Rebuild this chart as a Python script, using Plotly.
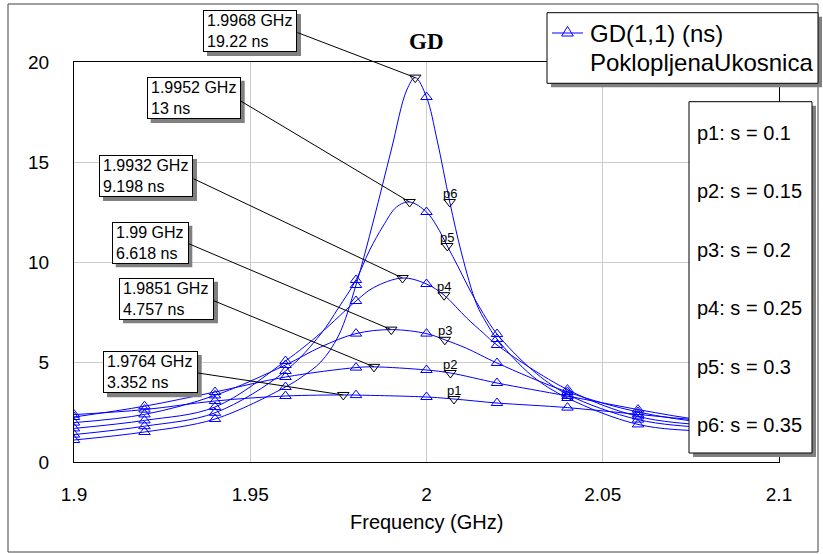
import plotly.graph_objects as go

# ---------------- data ----------------
freq_grid = [1.90, 1.92, 1.94, 1.96, 1.98, 2.00, 2.02, 2.04, 2.06, 2.08, 2.10]
gd_p1 = [2.37, 2.62, 3.05, 3.30, 3.345, 3.25, 2.95, 2.72, 2.38, 2.05, 1.80]
gd_p2 = [2.25, 2.79, 3.50, 4.25, 4.72, 4.60, 3.95, 3.30, 2.62, 2.05, 1.72]
gd_p3 = [1.97, 2.38, 3.33, 4.85, 6.42, 6.42, 4.95, 3.50, 2.50, 1.95, 1.66]
gd_p4 = [1.68, 2.08, 2.75, 5.05, 8.05, 8.90, 5.85, 3.62, 2.28, 1.82, 1.58]
gd_p5 = [1.37, 1.79, 2.46, 4.55, 9.10, 12.50, 6.40, 3.38, 2.12, 1.70, 1.50]
gd_p6 = [1.10, 1.50, 2.15, 3.75, 8.85, 18.25, 6.15, 3.20, 1.88, 1.52, 1.36]

# extra points read along the curves between the grid frequencies
extra_f_p1, extra_gd_p1 = [], []
extra_f_p2, extra_gd_p2 = [], []
extra_f_p3, extra_gd_p3 = [1.97, 2.0114], [5.75, 5.68]
extra_f_p4, extra_gd_p4 = [1.97, 1.985, 2.0114, 2.0161], [6.45, 8.72, 7.20, 6.45]
extra_f_p5 = [1.97, 1.975, 1.9839, 1.9877, 1.9915, 2.0029, 2.009, 2.0123, 2.0161, 2.03]
extra_gd_p5 = [6.40, 7.70, 10.60, 11.80, 12.75, 11.80, 9.75, 8.60, 7.42, 4.60]
extra_f_p6 = [1.965, 1.97, 1.975, 1.985, 1.99, 1.9944, 2.003, 2.01, 2.0142, 2.017, 2.03]
extra_gd_p6 = [4.30, 5.00, 6.30, 12.10, 15.60, 18.60, 16.10, 10.40, 7.90, 6.95, 4.30]

# peak markers (annotated)
peak_freq = [1.9764, 1.9851, 1.99, 1.9932, 1.9952, 1.9968]
peak_gd = [3.352, 4.757, 6.618, 9.198, 13, 19.22]

# curve label markers p1..p6
label_names = ["p1", "p2", "p3", "p4", "p5", "p6"]
label_freq = [2.0078, 2.0068, 2.0052, 2.0050, 2.0059, 2.0066]
label_gd = [3.15, 4.45, 6.11, 8.34, 10.80, 13.00]

s_values = [0.1, 0.15, 0.2, 0.25, 0.3, 0.35]

x_ticks = [1.9, 1.95, 2.0, 2.05, 2.1]
x_ticklabels = ["1.9", "1.95", "2", "2.05", "2.1"]
y_ticks = [0, 5, 10, 15, 20]

legend_lines = ["GD(1,1) (ns)", "PoklopljenaUkosnica"]
title_text = "GD"
x_title = "Frequency (GHz)"

# ---------------- layout helpers (pixels -> paper) ----------------
W, H = 823, 554
L, R, T, B = 74, 779, 62, 462
X0, X1 = 1.9, 2.1


def PX(x):
    return (x - L) / (R - L)


def PY(y):
    return (B - y) / (B - T)


def data_px(f):
    return L + (f - X0) / (X1 - X0) * (R - L)


def data_py(v):
    return B - v / 20.0 * (B - T)


FONT = "Liberation Sans, Arial, sans-serif"
BLUE = "#0000ff"
SHADOW = "#808080"

grids = [gd_p1, gd_p2, gd_p3, gd_p4, gd_p5, gd_p6]
extras_f = [extra_f_p1, extra_f_p2, extra_f_p3, extra_f_p4, extra_f_p5, extra_f_p6]
extras_gd = [extra_gd_p1, extra_gd_p2, extra_gd_p3, extra_gd_p4, extra_gd_p5, extra_gd_p6]

fig = go.Figure()

for i in range(6):
    pts = list(zip(freq_grid, grids[i]))
    pts += list(zip(extras_f[i], extras_gd[i]))
    pts.append((peak_freq[i], peak_gd[i]))
    pts.append((label_freq[i], label_gd[i]))
    pts.sort()
    fig.add_trace(go.Scatter(
        x=[p[0] for p in pts], y=[p[1] for p in pts], mode="lines",
        line=dict(color=BLUE, width=1, shape="spline", smoothing=1.0),
        showlegend=False, hoverinfo="skip"))

for i in range(6):
    fig.add_trace(go.Scatter(
        x=freq_grid, y=grids[i], mode="markers",
        marker=dict(symbol="triangle-up-open", size=10, color=BLUE,
                    line=dict(width=1, color=BLUE)),
        showlegend=False, hoverinfo="skip"))

fig.add_trace(go.Scatter(
    x=peak_freq, y=peak_gd, mode="markers",
    marker=dict(symbol="triangle-down-open", size=10, color="black",
                line=dict(width=1, color="black")),
    showlegend=False, hoverinfo="skip"))
fig.add_trace(go.Scatter(
    x=label_freq, y=label_gd, mode="markers",
    marker=dict(symbol="triangle-down-open", size=10, color="black",
                line=dict(width=1, color="black")),
    showlegend=False, hoverinfo="skip"))

shapes = []
annotations = []

# outer frame
shapes.append(dict(type="rect", xref="paper", yref="paper",
                   x0=PX(8), x1=PX(818), y0=PY(552), y1=PY(4),
                   line=dict(color="#404040", width=1), layer="above"))

# legend box (drawn by hand) + shadow
shapes.append(dict(type="rect", xref="paper", yref="paper",
                   x0=PX(551), x1=PX(822), y0=PY(87.3), y1=PY(16.7),
                   line=dict(width=0), fillcolor=SHADOW, layer="above"))
shapes.append(dict(type="rect", xref="paper", yref="paper",
                   x0=PX(547), x1=PX(818), y0=PY(83.3), y1=PY(12.7),
                   line=dict(width=1, color="black"), fillcolor="white", layer="above"))
shapes.append(dict(type="line", xref="paper", yref="paper",
                   x0=PX(552), x1=PX(583), y0=PY(33), y1=PY(33),
                   line=dict(width=1, color=BLUE), layer="above"))
cx, cy = 567.5, 33.5
tri = [(cx - 5.77, cy + 2.5), (cx + 5.77, cy + 2.5), (cx, cy - 7.07)]
path = "M " + " L ".join(f"{PX(a):.5f},{PY(b):.5f}" for a, b in tri) + " Z"
shapes.append(dict(type="path", xref="paper", yref="paper", path=path,
                   line=dict(width=1, color=BLUE), fillcolor="rgba(0,0,0,0)",
                   layer="above"))
for k, yy in enumerate([33, 62]):
    annotations.append(dict(
        xref="paper", yref="paper", x=PX(588), y=PY(yy),
        xanchor="left", yanchor="middle", showarrow=False,
        text=legend_lines[k], font=dict(family=FONT, size=24, color="black")))

# parameter box + shadow
shapes.append(dict(type="rect", xref="paper", yref="paper",
                   x0=PX(693), x1=PX(816), y0=PY(457), y1=PY(105.7),
                   line=dict(width=0), fillcolor=SHADOW, layer="above"))
shapes.append(dict(type="rect", xref="paper", yref="paper",
                   x0=PX(689), x1=PX(812), y0=PY(453), y1=PY(101.7),
                   line=dict(width=1, color="black"), fillcolor="white", layer="above"))

param_y = [132.7, 190.5, 249.5, 308, 366.7, 425]
for i in range(6):
    annotations.append(dict(
        xref="paper", yref="paper", x=PX(695), y=PY(param_y[i]),
        xanchor="left", yanchor="middle", showarrow=False,
        text=f"{label_names[i]}: s = {s_values[i]:g}",
        font=dict(family=FONT, size=20, color="black")))

# marker boxes (left, top, width, height) and leader tails
boxes = [(203, 10, 94, 42), (146.7, 76.7, 94, 42.3), (99, 155, 94, 42),
         (111.7, 221.7, 76.6, 41.6), (119, 277.7, 95, 41.6), (103, 351, 94.7, 42.3)]
tails = [(296, 32), (239, 100), (192, 178), (187, 243), (212, 300), (196, 372.7)]

for i in range(6):
    f, v = peak_freq[5 - i], peak_gd[5 - i]
    tx, ty = tails[i]
    annotations.append(dict(
        x=f, y=v, xref="x", yref="y", text="", showarrow=True,
        arrowhead=0, arrowwidth=1, arrowcolor="black", standoff=0,
        ax=tx - data_px(f), ay=ty - data_py(v)))

for i in range(6):
    f, v = peak_freq[5 - i], peak_gd[5 - i]
    lft, top, w, h = boxes[i]
    shapes.append(dict(type="rect", xref="paper", yref="paper",
                       x0=PX(lft + 4), x1=PX(lft + w + 4),
                       y0=PY(top + h + 4), y1=PY(top + 4),
                       line=dict(width=0), fillcolor=SHADOW, layer="above"))
    annotations.append(dict(
        xref="paper", yref="paper", x=PX(lft), y=PY(top),
        xanchor="left", yanchor="top", showarrow=False,
        text=f"{f:g} GHz<br>{v:g} ns", align="left", valign="middle",
        width=w - 8, height=h - 8, borderpad=3, borderwidth=1,
        bordercolor="black", bgcolor="white",
        font=dict(family=FONT, size=16, color="black")))

# p-labels on curves
for i in range(6):
    annotations.append(dict(
        x=label_freq[i], y=label_gd[i], xref="x", yref="y", text=label_names[i],
        showarrow=False, yshift=9, font=dict(family=FONT, size=13, color="black")))

# title and x title
annotations.append(dict(
    xref="paper", yref="paper", x=PX(427), y=PY(42), xanchor="center",
    yanchor="middle", showarrow=False, text=f"<b>{title_text}</b>",
    font=dict(family="Liberation Serif, Times New Roman, serif", size=23, color="black")))
annotations.append(dict(
    xref="paper", yref="paper", x=0.5, y=PY(521.7), xanchor="center",
    yanchor="middle", showarrow=False, text=x_title,
    font=dict(family=FONT, size=20, color="black")))

fig.update_layout(
    width=W, height=H,
    margin=dict(l=L, r=W - R, t=T, b=H - B, autoexpand=False),
    paper_bgcolor="white", plot_bgcolor="white",
    shapes=shapes, annotations=annotations,
    showlegend=False,
    xaxis=dict(range=[X0, X1], tickvals=x_ticks, ticktext=x_ticklabels,
               showgrid=True, gridcolor="#cccccc", gridwidth=1, zeroline=False,
               showline=True, linecolor="black", linewidth=1, mirror=True,
               ticks="", ticklabelstandoff=15,
               tickfont=dict(family=FONT, size=19, color="black")),
    yaxis=dict(range=[0, 20], tickvals=y_ticks,
               showgrid=True, gridcolor="#cccccc", gridwidth=1, zeroline=False,
               showline=True, linecolor="black", linewidth=1, mirror=True,
               ticks="", ticklabelstandoff=20,
               tickfont=dict(family=FONT, size=19, color="black")),
)

fig.write_html("out.html", config={"displayModeBar": False},
               post_script="document.body.style.margin='0';document.body.style.padding='0';")
